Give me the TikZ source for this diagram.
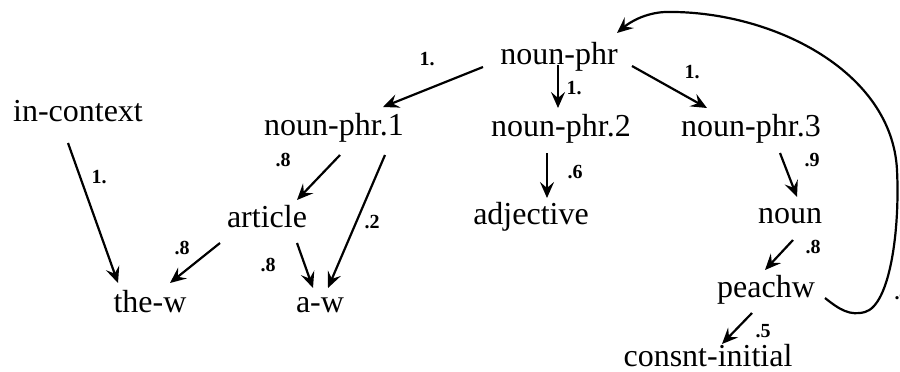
\documentclass[tikz,border=0pt]{standalone}
\usepackage{fontspec}
\setmainfont{Liberation Serif}
\usetikzlibrary{arrows.meta}
\begin{document}
\begin{tikzpicture}[x=0.5pt,y=-0.5pt,
  word/.style={anchor=base,inner sep=0pt,font=\fontsize{16}{18}\selectfont},
  prob/.style={inner sep=0pt,font=\fontsize{10}{12}\selectfont\bfseries},
  link/.style={line width=1.1pt,-{Stealth[length=8pt,width=7pt,inset=3pt]}}]
\useasboundingbox[fill=white] (0,0) rectangle (900,371);
% nodes
\node[word] (np)    at (559,64)  {noun-phr};
\node[word] (ic)    at (78,121)  {in-context};
\node[word] (np1)   at (334,135) {noun-phr.1};
\node[word] (np2)   at (561,136) {noun-phr.2};
\node[word] (np3)   at (751,136) {noun-phr.3};
\node[word] (art)   at (267,227) {article};
\node[word] (adj)   at (531,224) {adjective};
\node[word] (noun)  at (790,223) {noun};
\node[word] (thew)  at (150,312) {the-w};
\node[word] (aw)    at (320,312) {a-w};
\node[word] (peach) at (766,297) {peachw};
\node[word] (cons)  at (708,366) {consnt-initial};
% connectors
\draw[link] ([shift={(-76,3)}]np.base) -- ([shift={(49,-28)}]np1.base);
\draw[link] ([shift={(-1,1)}]np.base) -- ([shift={(-3,-28)}]np2.base);
\draw[link] ([shift={(73,2)}]np.base) -- ([shift={(-44,-28)}]np3.base);
\draw[link] ([shift={(-14,17)}]np2.base) -- ([shift={(16,-26)}]adj.base);
\draw[link] ([shift={(29,17)}]np3.base) -- ([shift={(7,-26)}]noun.base);
\draw[link] ([shift={(3,17)}]noun.base) -- ([shift={(-1,-27)}]peach.base);
\draw[link] ([shift={(-14,16)}]peach.base) -- ([shift={(14,-22)}]cons.base);
\draw[link] ([shift={(59,1)}]peach.base)
   .. controls (840,310) and (850,316) .. (865,312)
   .. controls (890,305) and (900,230) .. (897,170)
   .. controls (892,70) and (770,10) .. (665,12)
   .. controls (645,13) and (630,22) .. ([shift={(58,-31)}]np.base);
\draw[link] ([shift={(-10,22)}]ic.base) -- ([shift={(-32,-29)}]thew.base);
\draw[link] ([shift={(6,20)}]np1.base) -- ([shift={(30,-27)}]art.base);
\draw[link] ([shift={(51,20)}]np1.base) -- ([shift={(8,-24)}]aw.base);
\draw[link] ([shift={(-47,16)}]art.base) -- ([shift={(20,-29)}]thew.base);
\draw[link] ([shift={(30,16)}]art.base) -- ([shift={(-7,-24)}]aw.base);
% probability labels
\node[prob] (l1)  at (427,59)  {1.};
\node[prob] (l2)  at (574,88)  {1.};
\node[prob] (l3)  at (692,72)  {1.};
\node[prob] (l4)  at (575,172) {.6};
\node[prob] (l5)  at (812,160) {.9};
\node[prob] (l6)  at (813,247) {.8};
\node[prob] (l7)  at (763,331) {.5};
\node[prob] (l8)  at (902,293) {.4};
\node[prob] (l9)  at (99,177)  {1.};
\node[prob] (l10) at (283,160) {.8};
\node[prob] (l11) at (372,222) {.2};
\node[prob] (l12) at (182,248) {.8};
\node[prob] (l13) at (268,265) {.8};
\end{tikzpicture}
\end{document}
